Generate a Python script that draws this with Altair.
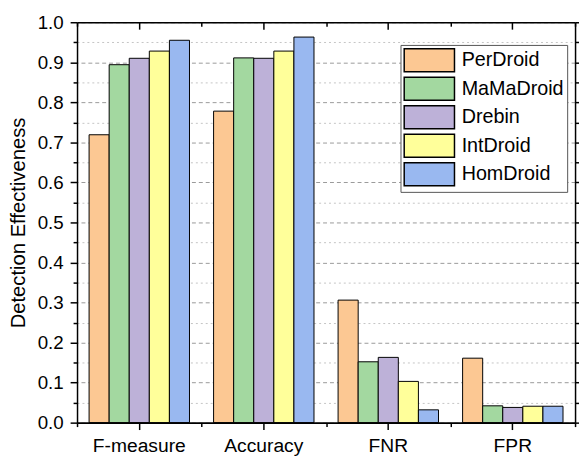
import altair as alt
import pandas as pd

metrics = ["F-measure", "Accuracy", "FNR", "FPR"]
tools = ["PerDroid", "MaMaDroid", "Drebin", "IntDroid", "HomDroid"]
perdroid = [0.719, 0.778, 0.306, 0.161]
mamadroid = [0.894, 0.911, 0.152, 0.042]
drebin = [0.910, 0.910, 0.163, 0.038]
intdroid = [0.928, 0.928, 0.103, 0.041]
homdroid = [0.955, 0.963, 0.032, 0.041]
colors = ["#FCC893", "#A3D8A0", "#BDB1D8", "#FFFF9A", "#99B8F0"]
major_ticks = [0.0, 0.1, 0.2, 0.3, 0.4, 0.5, 0.6, 0.7, 0.8, 0.9, 1.0]
minor_ticks = [0.05, 0.15, 0.25, 0.35, 0.45, 0.55, 0.65, 0.75, 0.85, 0.95]

series = [perdroid, mamadroid, drebin, intdroid, homdroid]
rows = []
for tool, vals in zip(tools, series):
    for m, v in zip(metrics, vals):
        rows.append({"metric": m, "tool": tool, "value": v})
df = pd.DataFrame(rows)

FONT = "Liberation Sans"
W, H = 505, 406

xscale = alt.Scale(paddingInner=0, paddingOuter=0)
xoff = alt.XOffset("tool:N", sort=tools, scale=alt.Scale(paddingOuter=0.6, paddingInner=0))
yscale = alt.Scale(domain=[0, 1], nice=False)


def xenc(axis):
    return alt.X("metric:N", sort=metrics, scale=xscale, title=None, axis=axis)


def yenc(axis, title=None):
    return alt.Y("value:Q", scale=yscale, title=title, axis=axis)


base = alt.Chart(df)

bars = base.mark_bar(stroke="black", strokeWidth=1).encode(
    x=xenc(alt.Axis(orient="bottom", labelAngle=0, labelFontSize=19.5, labelFont=FONT,
                    labelColor="black", labelPadding=7, tickSize=7, tickWidth=1.5,
                    tickColor="black", domainColor="black", domainWidth=2,
                    bandPosition=0.5, grid=False, zindex=1)),
    xOffset=xoff,
    y=yenc(alt.Axis(orient="left", values=major_ticks, format=".1f", labelFontSize=19,
                    labelFont=FONT, labelColor="black", labelPadding=7, tickSize=7,
                    tickWidth=1.5, tickColor="black", domainColor="black", domainWidth=1.5,
                    grid=False, zindex=1, titleFontSize=20.5, titleFont=FONT,
                    titleFontWeight="normal", titleColor="black", titleX=-49, titleY=203),
           title="Detection Effectiveness"),
    color=alt.Color("tool:N", sort=tools, scale=alt.Scale(domain=tools, range=colors),
                    legend=alt.Legend(title=None, orient="none", legendX=328, legendY=23,
                                      symbolType="M-1,-1h4.34v2h-4.34z", symbolSize=552,
                                      symbolStrokeColor="black", symbolStrokeWidth=1.5,
                                      symbolOpacity=1, labelFontSize=20, labelFont=FONT,
                                      labelColor="black", labelOffset=34, rowPadding=-2.1,
                                      padding=3, fillColor="white", strokeColor="#555",
                                      labelLimit=0)),
)

ghost = base.mark_bar(opacity=0)

x_bottom_minor = ghost.encode(
    x=xenc(alt.Axis(orient="bottom", labels=False, tickBand="extent", tickSize=4,
                    tickWidth=1.5, tickColor="black", domain=False, grid=False, zindex=1)),
    xOffset=xoff,
    y=yenc(None),
)

x_top_major = ghost.encode(
    x=xenc(alt.Axis(orient="bottom", offset=-H, labels=False, tickSize=7, tickWidth=1.5,
                    tickColor="black", domain=True, domainColor="black", domainWidth=1.5,
                    bandPosition=0.5, grid=False, zindex=1)),
    xOffset=xoff,
    y=yenc(None),
)

x_top_minor = ghost.encode(
    x=xenc(alt.Axis(orient="bottom", offset=-H, labels=False, tickBand="extent", tickSize=4,
                    tickWidth=1.5, tickColor="black", domain=False, grid=False, zindex=1)),
    xOffset=xoff,
    y=yenc(None),
)

y_left_minor = ghost.encode(
    x=xenc(None),
    xOffset=xoff,
    y=yenc(alt.Axis(orient="left", values=minor_ticks, labels=False, tickSize=4,
                    tickWidth=1.5, tickColor="black", domain=False, grid=True,
                    gridDash=[2, 3], gridColor="#c4c4c4", gridWidth=1)),
)

y_right_major = ghost.encode(
    x=xenc(None),
    xOffset=xoff,
    y=yenc(alt.Axis(orient="right", values=major_ticks, labels=False, tickSize=4,
                    tickWidth=1.5, tickColor="black", domain=True, domainColor="black",
                    domainWidth=1.5, grid=True, gridDash=[4, 3], gridColor="#999999",
                    gridWidth=1)),
)

y_right_minor = ghost.encode(
    x=xenc(None),
    xOffset=xoff,
    y=yenc(alt.Axis(orient="right", values=minor_ticks, labels=False, tickSize=4,
                    tickWidth=1.5, tickColor="black", domain=False, grid=False)),
)

chart = alt.layer(
    y_left_minor, y_right_major, bars, x_bottom_minor, x_top_major, x_top_minor, y_right_minor
).resolve_axis(
    x="independent", y="independent"
).properties(
    width=W, height=H,
    autosize=alt.AutoSizeParams(type="none"),
    padding={"left": 70, "top": 11.3, "right": 4, "bottom": 33},
    background="white",
).configure_view(stroke=None).configure(font=FONT)

chart.save("out.html", embed_options={"renderer": "svg", "actions": False})
